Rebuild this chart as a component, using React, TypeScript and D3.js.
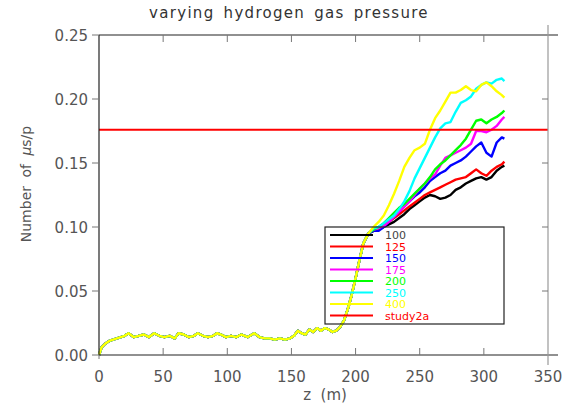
import React from "react";
import * as d3 from "d3";

const xTicks = [0, 50, 100, 150, 200, 250, 300, 350];
const yTicks = [0, 0.05, 0.1, 0.15, 0.2, 0.25];

// shared early part (all series coincide)
const zCommon = [0, 2, 5, 8, 11, 14, 17, 20, 23, 27, 31, 35, 39, 43, 47, 51, 55, 59, 62, 66, 70, 74, 77, 81, 85, 89, 92, 95, 99, 103, 107, 111, 116, 121, 125, 129, 133, 137, 141, 145, 149, 152, 155, 158, 161, 164, 167, 170, 173, 176, 179, 182, 185, 188, 191, 194, 197, 200, 203, 206, 210];
const vCommon = [0.0, 0.006, 0.009, 0.011, 0.012, 0.013, 0.014, 0.015, 0.017, 0.014, 0.015, 0.016, 0.014, 0.017, 0.015, 0.014, 0.015, 0.013, 0.017, 0.016, 0.014, 0.015, 0.017, 0.015, 0.014, 0.015, 0.017, 0.016, 0.014, 0.015, 0.014, 0.016, 0.014, 0.017, 0.014, 0.013, 0.013, 0.012, 0.013, 0.012, 0.013, 0.015, 0.019, 0.017, 0.016, 0.02, 0.018, 0.021, 0.019, 0.021, 0.02, 0.018, 0.019, 0.022, 0.027, 0.036, 0.047, 0.06, 0.074, 0.087, 0.095];

const zTail = [214, 218, 222, 226, 230, 234, 238, 242, 246, 250, 254, 258, 262, 266, 270, 274, 278, 282, 286, 290, 294, 298, 302, 306, 310, 314, 316];
const v100 = [0.097, 0.098, 0.1, 0.102, 0.104, 0.107, 0.11, 0.114, 0.117, 0.12, 0.123, 0.125, 0.124, 0.122, 0.123, 0.125, 0.129, 0.131, 0.134, 0.136, 0.138, 0.139, 0.137, 0.139, 0.144, 0.147, 0.148];
const v125 = [0.098, 0.099, 0.101, 0.104, 0.107, 0.11, 0.113, 0.116, 0.119, 0.122, 0.125, 0.127, 0.129, 0.131, 0.133, 0.135, 0.137, 0.138, 0.139, 0.142, 0.145, 0.142, 0.14, 0.144, 0.147, 0.149, 0.151];
const v150 = [0.097, 0.097, 0.1, 0.104, 0.108, 0.112, 0.116, 0.12, 0.124, 0.127, 0.131, 0.136, 0.139, 0.142, 0.144, 0.148, 0.15, 0.152, 0.155, 0.159, 0.163, 0.166, 0.158, 0.155, 0.166, 0.17, 0.169];
const v175 = [0.098, 0.099, 0.101, 0.104, 0.108, 0.112, 0.116, 0.12, 0.125, 0.13, 0.134, 0.138, 0.141, 0.148, 0.154, 0.156, 0.158, 0.16, 0.162, 0.165, 0.175, 0.175, 0.174, 0.176, 0.179, 0.184, 0.186];
const v200 = [0.098, 0.1, 0.103, 0.107, 0.111, 0.115, 0.118, 0.122, 0.126, 0.13, 0.134, 0.139, 0.145, 0.149, 0.152, 0.156, 0.16, 0.164, 0.169, 0.176, 0.183, 0.184, 0.181, 0.184, 0.186, 0.189, 0.191];
const v250 = [0.099, 0.1, 0.103, 0.106, 0.109, 0.114, 0.12, 0.128, 0.138, 0.146, 0.154, 0.162, 0.17, 0.177, 0.181, 0.182, 0.19, 0.197, 0.199, 0.202, 0.208, 0.211, 0.213, 0.212, 0.215, 0.216, 0.214];
const v400 = [0.1, 0.104, 0.109, 0.117, 0.126, 0.136, 0.147, 0.154, 0.16, 0.162, 0.165, 0.176, 0.185, 0.191, 0.198, 0.205, 0.205, 0.207, 0.21, 0.207, 0.206, 0.211, 0.213, 0.21, 0.206, 0.203, 0.201];

const seriesNames = ["100", "125", "150", "175", "200", "250", "400"];
const seriesValues = [v100, v125, v150, v175, v200, v250, v400];
const seriesColors = ["#000000", "#ff0000", "#0000ff", "#ff00ff", "#00ff00", "#00ffff", "#ffff00"];
const study2aValue = 0.176;
const study2aColor = "#ff0000";

const W = 575, H = 408;
const left = 99, right = 548, top = 35, bottom = 355;
const FONT = "'DejaVu Sans', sans-serif";

export default function App() {
  const x = d3.scaleLinear().domain([0, 350]).range([left, right]);
  const y = d3.scaleLinear().domain([0, 0.25]).range([bottom, top]);
  const line = d3.line<[number, number]>().x((d) => x(d[0])).y((d) => y(d[1]));

  const series = seriesValues.map((vals, i) => {
    const pts: [number, number][] = zCommon.map((z, j) => [z, vCommon[j]]);
    zTail.forEach((z, j) => pts.push([z, vals[j]]));
    return { name: seriesNames[i], color: seriesColors[i], pts };
  });

  const legendItems = [
    ...seriesNames.map((n, i) => ({ name: n, color: seriesColors[i] })),
    { name: "study2a", color: study2aColor },
  ];
  const legX = 325, legY = 227, legW = 179, legH = 97, rowH = 11.5;
  const axisColor = "#222";
  const tickColor = "#777";
  const textColor = "#555";

  return (
    <svg width={W} height={H} style={{ position: "absolute", left: 0, top: 0, background: "#fff" }}>
      <rect x={0} y={0} width={W} height={H} fill="#fff" />
      {/* title */}
      <text x={289} y={18} textAnchor="middle" fontFamily={FONT} fontSize={15} fill="#333" letterSpacing={1.3} wordSpacing={3}>
        varying hydrogen gas pressure
      </text>

      {/* data lines */}
      {series.map((s) => (
        <path key={s.name} d={line(s.pts) || ""} fill="none" stroke={s.color} strokeWidth={2.4} strokeLinejoin="round" />
      ))}
      <line x1={x(0)} x2={x(350)} y1={y(study2aValue)} y2={y(study2aValue)} stroke={study2aColor} strokeWidth={2} />

      {/* axes */}
      <line x1={left} x2={left} y1={top} y2={bottom} stroke={axisColor} strokeWidth={1.2} />
      <line x1={left} x2={right + 10} y1={top} y2={top} stroke={axisColor} strokeWidth={1.2} />
      <line x1={left} x2={right + 10} y1={bottom} y2={bottom} stroke={axisColor} strokeWidth={1.2} />
      <line x1={right} x2={right} y1={top - 10} y2={bottom + 10} stroke="#999" strokeWidth={1.2} />

      {xTicks.map((t) => (
        <g key={"x" + t}>
          {t > 0 && t < 350 && <line x1={x(t)} x2={x(t)} y1={bottom} y2={bottom - 7} stroke={tickColor} />}
          {t > 0 && t < 350 && <line x1={x(t)} x2={x(t)} y1={top} y2={top + 7} stroke={tickColor} />}
          {t === 0 && <line x1={x(t)} x2={x(t)} y1={bottom} y2={bottom + 4} stroke={tickColor} />}
          <text x={x(t)} y={382} textAnchor="middle" fontFamily={FONT} fontSize={15} fill={textColor}>
            {t}
          </text>
        </g>
      ))}
      {yTicks.map((t) => (
        <g key={"y" + t}>
          <line x1={left - 7} x2={left} y1={y(t)} y2={y(t)} stroke={tickColor} />
          {t > 0 && t < 0.25 && <line x1={right - 6} x2={right} y1={y(t)} y2={y(t)} stroke={tickColor} />}
          <text x={left - 11} y={y(t) + 5.5} textAnchor="end" fontFamily={FONT} fontSize={15} fill={textColor}>
            {t.toFixed(2)}
          </text>
        </g>
      ))}

      {/* axis labels */}
      <text x={325} y={400} textAnchor="middle" fontFamily={FONT} fontSize={15} fill={textColor} style={{ whiteSpace: "pre" }}>
        {"z  (m)"}
      </text>
      <text transform={`translate(31,184) rotate(-90)`} textAnchor="middle" fontFamily={FONT} fontSize={14} fill={textColor} wordSpacing={4}>
        {"Number of "}
        <tspan fontStyle="italic">μ</tspan>
        {"s/p"}
      </text>

      {/* legend */}
      <rect x={legX} y={legY} width={legW} height={legH} fill="none" stroke="#222" strokeWidth={1.2} />
      {legendItems.map((it, i) => {
        const ly = legY + 8 + i * rowH;
        return (
          <g key={"l" + it.name}>
            <line x1={330} x2={373} y1={ly} y2={ly} stroke={it.color} strokeWidth={2.2} />
            <text x={385} y={ly + 4} fontFamily={FONT} fontSize={11} fill={it.color === "#000000" ? "#444" : it.color}>
              {it.name}
            </text>
          </g>
        );
      })}
    </svg>
  );
}
